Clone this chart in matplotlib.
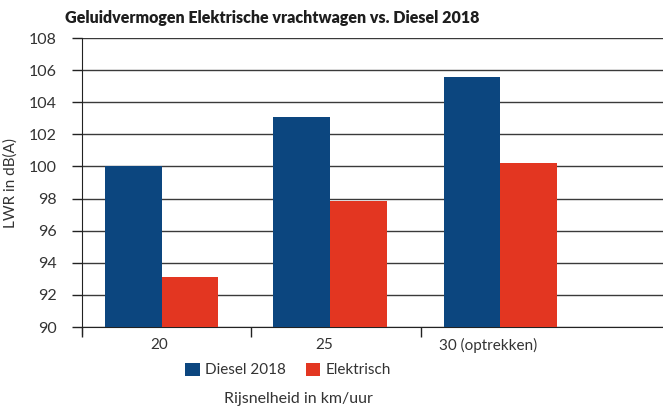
import matplotlib
matplotlib.use("Agg")
import matplotlib.pyplot as plt
import numpy as np

categories = ["20", "25", "30 (optrekken)"]
diesel = [100.0, 103.1, 105.6]
elektrisch = [93.1, 97.85, 100.2]
series_names = ["Diesel 2018", "Elektrisch"]

plt.rcParams['font.family'] = ['Lato', 'DejaVu Sans']
txt = '#333333'

fig = plt.figure(figsize=(6.63, 4.09), dpi=100)
ax = fig.add_axes([82 / 663, 1 - 327 / 409, 1 - 82 / 663, (327 - 38) / 409])

x = np.array([-0.03, 0.965, 1.97])
w = 0.335
ax.bar(x - w / 2, np.array(diesel) - 90, w, bottom=90, color='#0c467f', label=series_names[0], zorder=3)
ax.bar(x + w / 2, np.array(elektrisch) - 90, w, bottom=90, color='#e33621', label=series_names[1], zorder=3)

ax.set_ylim(90, 108)
ax.set_yticks(np.arange(90, 109, 2))
ax.set_xlim(-0.5, 2.93)
ax.yaxis.grid(True, color='#3a3a3a', linewidth=1.0, zorder=0)

# category boundaries as ticks, labels at the centres
ax.set_xticks([-0.5, 0.5, 1.5], minor=False)
ax.set_xticklabels([])
ax.set_xticks([-0.045, 0.93, 1.895], minor=True)
ax.set_xticklabels(categories, minor=True)
ax.tick_params(axis='x', which='major', length=7, width=1, color='#222222')
ax.tick_params(axis='x', which='minor', length=0, pad=8, labelsize=11, labelcolor=txt)
ax.tick_params(axis='y', length=7, width=1, color='#222222', pad=11, labelsize=11.5, labelcolor=txt)

for s in ['top', 'right']:
    ax.spines[s].set_visible(False)
ax.spines['left'].set_color('#222222')
ax.spines['bottom'].set_color('#222222')
ax.spines['left'].set_bounds(89.55, 108)

ax.set_ylabel('LWR in dB(A)', fontsize=11, color=txt)
ax.yaxis.set_label_coords((18 - 82) / 581, 0.5)
fig.text(298 / 663, 1 - 399 / 409, 'Rijsnelheid in km/uur', ha='center', va='center', fontsize=11.5,
         color=txt)
fig.text(65 / 663, 1 - 18 / 409, 'Geluidvermogen Elektrische vrachtwagen vs. Diesel 2018',
         ha='left', va='center', fontsize=11.5, fontweight='heavy', color='#1e1e1e')

leg = fig.legend(loc='center', bbox_to_anchor=(288 / 663, 1 - 370 / 409), ncol=2, frameon=False,
                 handlelength=0.95, handleheight=0.95, handletextpad=0.35, columnspacing=1.3,
                 fontsize=11, labelcolor=txt)

fig.savefig('out.png', dpi=100)
